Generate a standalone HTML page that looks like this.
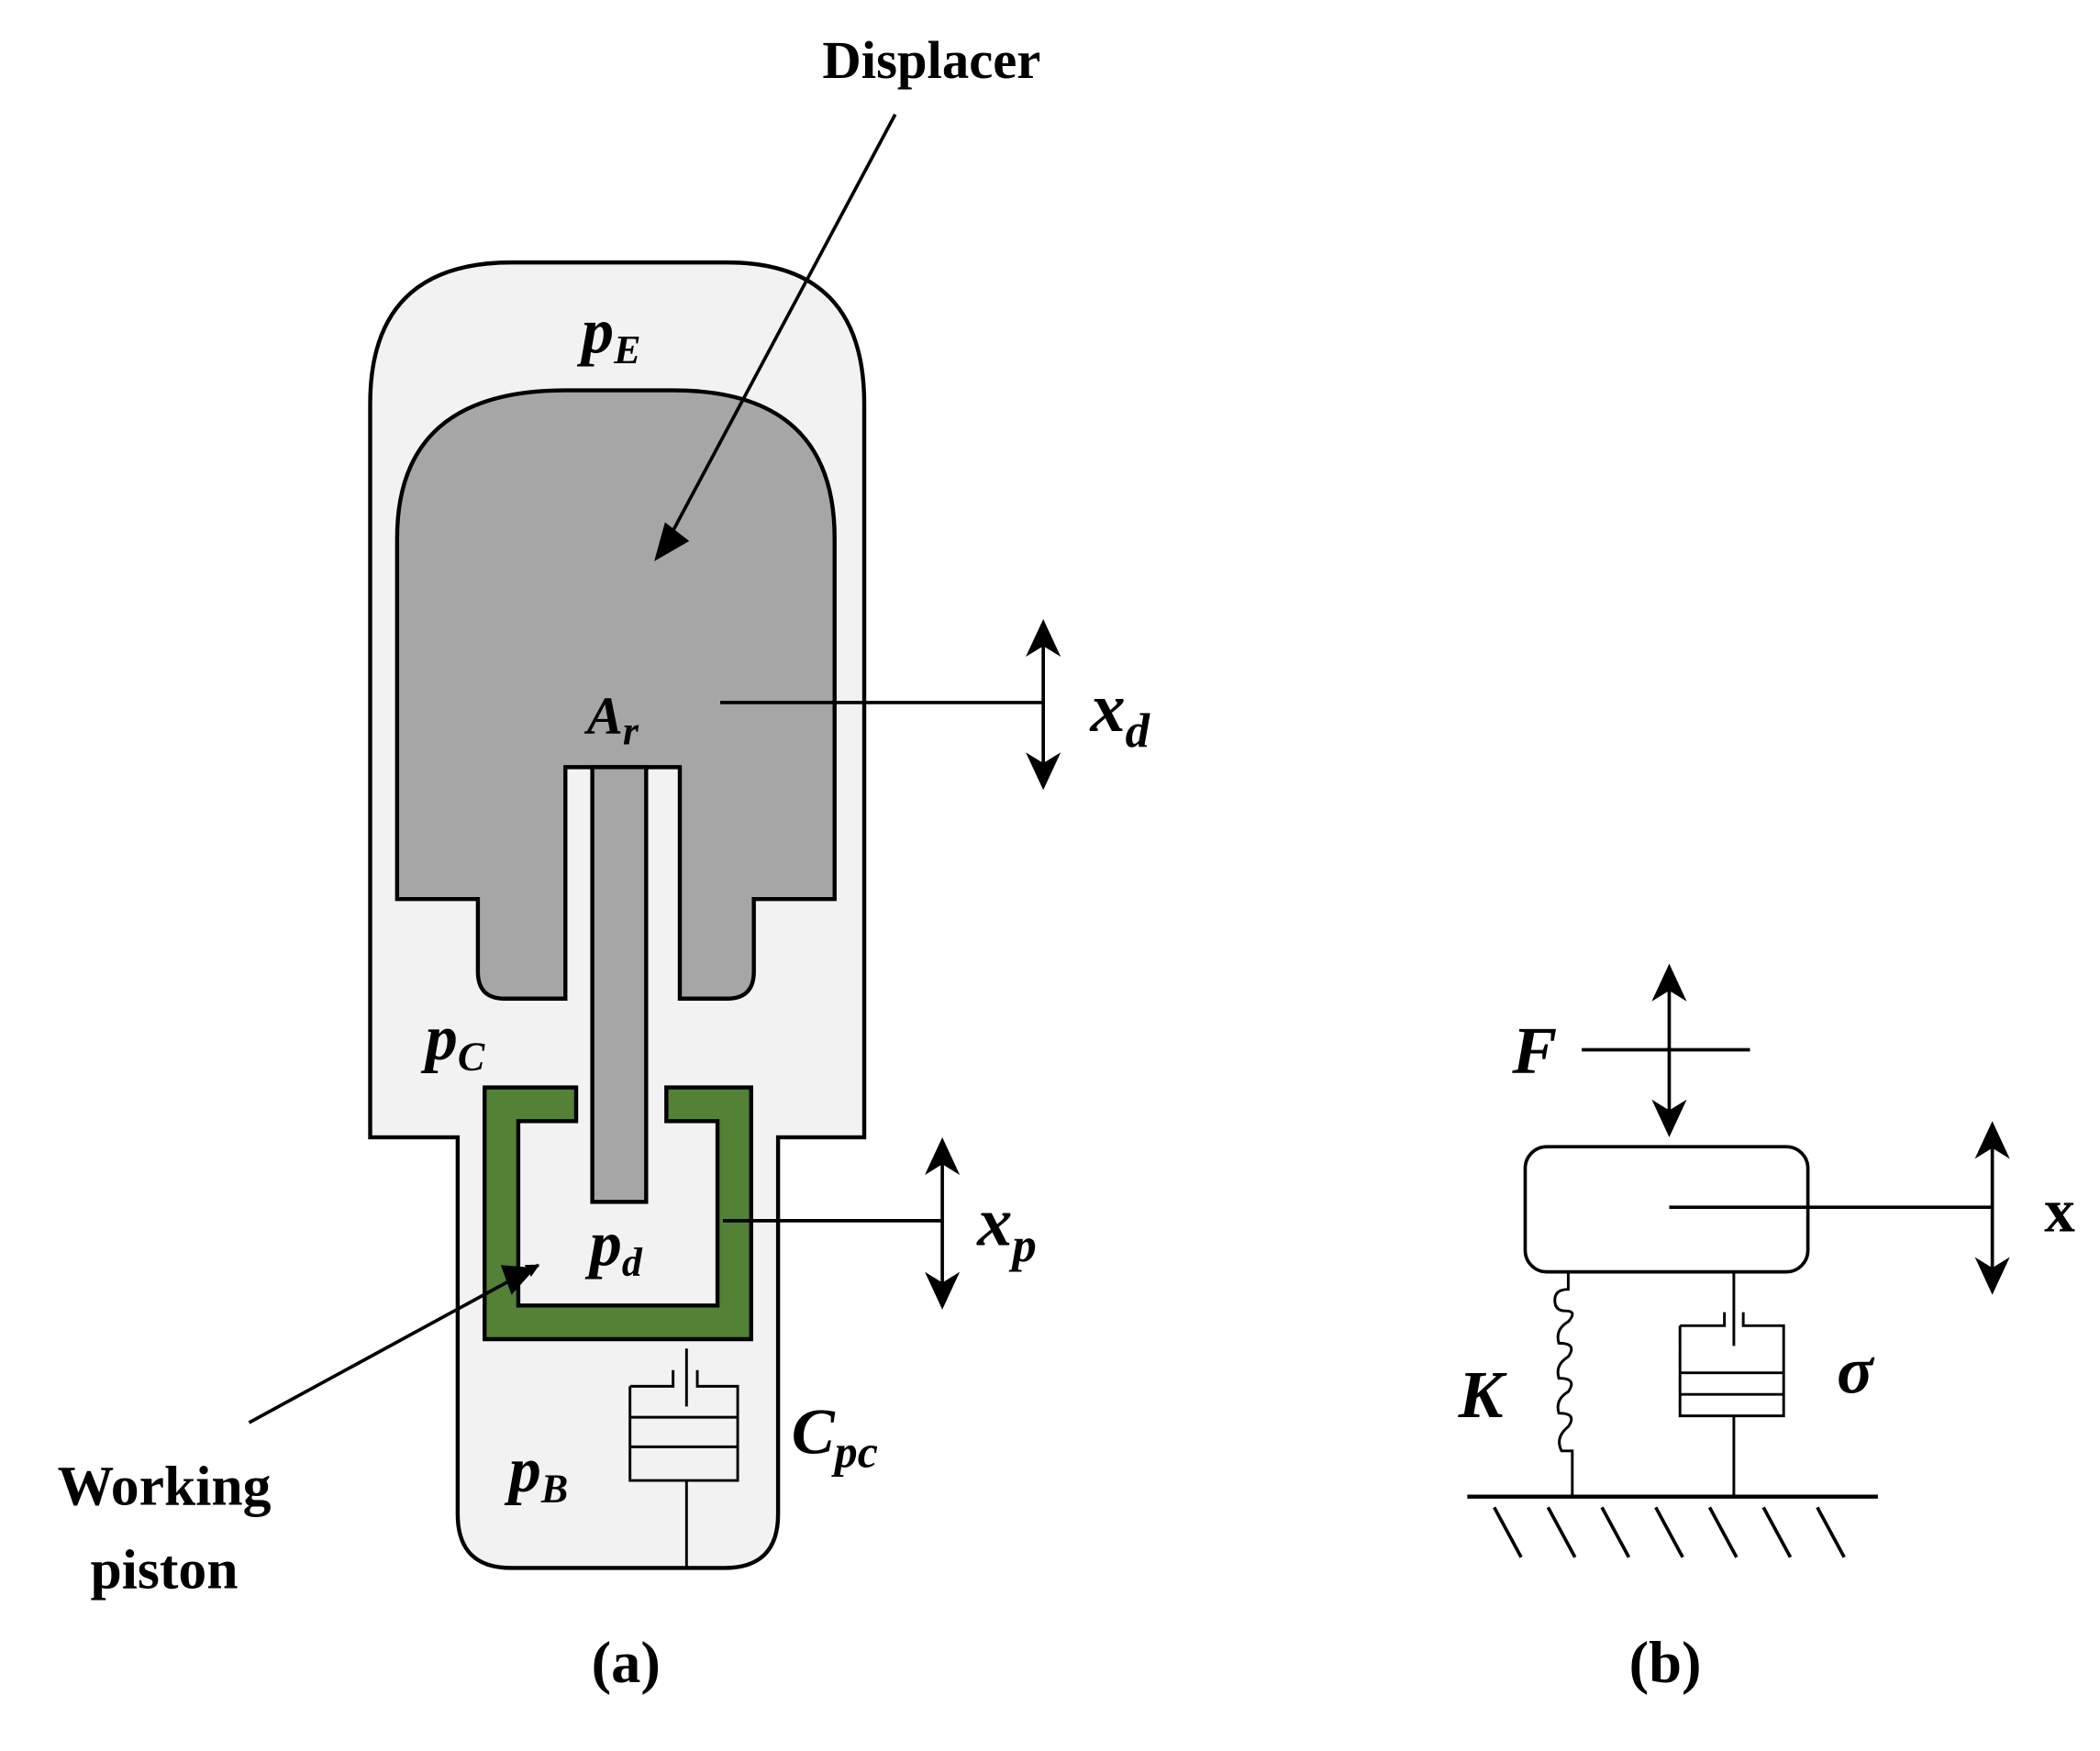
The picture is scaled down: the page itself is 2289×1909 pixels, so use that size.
<!DOCTYPE html>
<html><head><style>html,body{margin:0;padding:0;background:#fff}svg{display:block}
text{font-family:"Liberation Serif",serif;font-weight:bold}
.i{font-style:italic}</style></head><body>
<svg width="2289" height="1909" viewBox="0 0 1560 1301" preserveAspectRatio="none" xmlns="http://www.w3.org/2000/svg">
<defs><marker id="ah" markerWidth="10" markerHeight="10" refX="9" refY="5" orient="auto" markerUnits="userSpaceOnUse"><path d="M0,0 L10,5 L0,10Z"/></marker></defs>
<path d="M275,845 L275,300 Q275,195 380,195 L540,195 Q642,195 642,300 L642,845 L578,845 L578,1125 Q578,1165 538,1165 L380,1165 Q340,1165 340,1125 L340,845 Z" fill="#f2f2f2" stroke="#000" stroke-width="3"/>
<path d="M295,668 L295,400 Q295,290 420,290 L500,290 Q620,290 620,400 L620,668 L560,668 L560,722 Q560,742 540,742 L505,742 L505,570 L420,570 L420,742 L375,742 Q355,742 355,722 L355,668 Z" fill="#a6a6a6" stroke="#000" stroke-width="3"/>
<rect x="440" y="570" width="40" height="323" fill="#a6a6a6" stroke="#000" stroke-width="3"/>
<path d="M428,808 L360,808 L360,995 L558,995 L558,808 L495,808 L495,833 L533,833 L533,970 L385,970 L385,833 L428,833 Z" fill="#538135" stroke="#000" stroke-width="3"/>
<g stroke="#000" stroke-width="2" fill="none">
<path d="M510,1002 L510,1045 M468,1030 L468,1100 L548,1100 L548,1030 L518,1030 L518,1018 M468,1030 L500,1030 L500,1018 M468,1053 L548,1053 M468,1075 L548,1075 M510,1100 L510,1165"/>
</g>
<g stroke="#000" stroke-width="2.5" fill="none">
<line x1="665" y1="85" x2="490" y2="413" marker-end="url(#ah)"/>
<line x1="185" y1="1057" x2="400" y2="940" marker-end="url(#ah)"/>
<line x1="535" y1="522" x2="775" y2="522"/>
<line x1="775" y1="470" x2="775" y2="578"/>
<line x1="537" y1="907" x2="700" y2="907"/>
<line x1="700" y1="855" x2="700" y2="963"/>
</g>
<g fill="#000">
<path d="M775,460 L762,488 L775,480 L788,488Z M775,587 L762,559 L775,567 L788,559Z"/>
<path d="M700,845 L687,873 L700,865 L713,873Z M700,973 L687,945 L700,953 L713,945Z"/>
<path d="M1240,716 L1227,744 L1240,736 L1253,744Z M1240,845 L1227,817 L1240,825 L1253,817Z"/>
<path d="M1480,833 L1467,861 L1480,853 L1493,861Z M1480,962 L1467,934 L1480,942 L1493,934Z"/>
<path d="M486,417 L512,402 L494,388Z M398,942 L372,940 L380,962Z"/>
</g>
<g stroke="#000" stroke-width="2.5" fill="none">
<line x1="1175" y1="780" x2="1300" y2="780"/>
<line x1="1240" y1="725" x2="1240" y2="836"/>
<rect x="1133" y="852" width="210" height="93" rx="16"/>
<line x1="1240" y1="897" x2="1480" y2="897"/>
<line x1="1480" y1="842" x2="1480" y2="953"/>
<line x1="1090" y1="1112" x2="1395" y2="1112" stroke-width="3"/>
<path d="M1110,1120 L1130,1157 M1150,1120 L1170,1157 M1190,1120 L1210,1157 M1230,1120 L1250,1157 M1270,1120 L1290,1157 M1310,1120 L1330,1157 M1350,1120 L1370,1157"/>
<path d="M1165,945 L1165,958 Q1155,958 1155,966 Q1155,974 1163,974 Q1172,974 1165,982 Q1155,988 1158,998 Q1172,998 1165,1008 Q1155,1014 1158,1024 Q1172,1024 1165,1034 Q1155,1040 1158,1050 Q1172,1050 1165,1060 Q1155,1068 1160,1078 L1168,1078 L1168,1112" stroke-width="2"/>
</g>
<g stroke="#000" stroke-width="2" fill="none">
<path d="M1288,945 L1288,1000 M1248,985 L1248,1052 L1325,1052 L1325,985 L1295,985 L1295,975 M1248,985 L1281,985 L1281,975 M1248,1020 L1325,1020 M1248,1036 L1325,1036 M1288,1052 L1288,1112"/>
</g>
<text x="692" y="58" font-size="40" text-anchor="middle">Displacer</text>
<text x="432" y="262" font-size="48" class="i">p<tspan font-size="30" dy="8">E</tspan></text>
<text x="436" y="545" font-size="40" class="i">A<tspan font-size="30" dy="8">r</tspan></text>
<text x="316" y="787" font-size="48" class="i">p<tspan font-size="30" dy="8">C</tspan></text>
<text x="438" y="940" font-size="48" class="i">p<tspan font-size="30" dy="8">d</tspan></text>
<text x="378" y="1108" font-size="48" class="i">p<tspan font-size="30" dy="8">B</tspan></text>
<text x="588" y="1080" font-size="48" class="i">C<tspan font-size="34" dy="10">pc</tspan></text>
<text x="810" y="543" font-size="52" class="i">x<tspan font-size="36" dy="12">d</tspan></text>
<text x="726" y="925" font-size="52" class="i">x<tspan font-size="36" dy="12">p</tspan></text>
<text x="122" y="1118" font-size="42" text-anchor="middle">Working</text>
<text x="122" y="1180" font-size="42" text-anchor="middle">piston</text>
<text x="465" y="1250" font-size="44" text-anchor="middle">(a)</text>
<text x="1237" y="1250" font-size="44" text-anchor="middle">(b)</text>
<text x="1140" y="797" font-size="50" class="i" text-anchor="middle">F</text>
<text x="1530" y="915" font-size="46" text-anchor="middle">x</text>
<text x="1100" y="1053" font-size="50" class="i" text-anchor="middle">K</text>
<text x="1378" y="1035" font-size="50" class="i" text-anchor="middle">σ</text>
</svg>
</body></html>
